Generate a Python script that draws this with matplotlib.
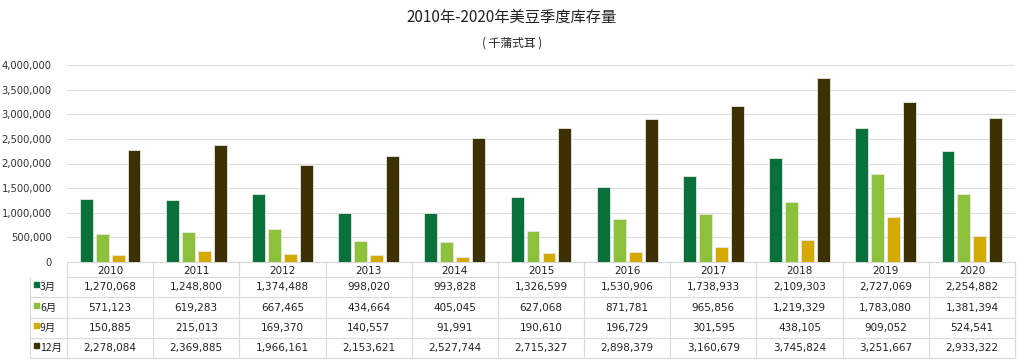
import numpy as np
import matplotlib.pyplot as plt

plt.rcParams['font.family'] = ['DejaVu Sans', 'Noto Sans CJK SC']

years = ['2010', '2011', '2012', '2013', '2014', '2015', '2016', '2017', '2018', '2019', '2020']
series_names = ['3月', '6月', '9月', '12月']
mar = [1270068, 1248800, 1374488, 998020, 993828, 1326599, 1530906, 1738933, 2109303, 2727069, 2254882]
jun = [571123, 619283, 667465, 434664, 405045, 627068, 871781, 965856, 1219329, 1783080, 1381394]
sep = [150885, 215013, 169370, 140557, 91991, 190610, 196729, 301595, 438105, 909052, 524541]
dec = [2278084, 2369885, 1966161, 2153621, 2527744, 2715327, 2898379, 3160679, 3745824, 3251667, 2933322]
series = [mar, jun, sep, dec]
colors = ['#08703A', '#8DC13C', '#D4AA00', '#3D3002']

W, H = 1024, 363
fig = plt.figure(figsize=(W / 100, H / 100), dpi=100)

# plot area in pixels
px_l, px_r, px_t, px_b = 67, 1015, 65, 262
ax = fig.add_axes([px_l / W, 1 - px_b / H, (px_r - px_l) / W, (px_b - px_t) / H])

x = np.arange(len(years))
bw = 0.15
step = 0.185
for i, (vals, c) in enumerate(zip(series, colors)):
    ax.bar(x + (i - 1.5) * step, vals, width=bw, color=c,
           edgecolor='#E8E8E0', linewidth=0.6, zorder=3)

ax.set_xlim(-0.5, len(years) - 0.5)
ax.set_ylim(0, 4000000)
ax.set_yticks(np.arange(0, 4000001, 500000))
ax.set_yticklabels([f'{v:,}' for v in range(0, 4000001, 500000)], fontsize=7.2, color='#333333')
ax.set_xticks([])
ax.tick_params(axis='y', length=0, pad=11)
ax.grid(axis='y', color='#DDDDDD', linewidth=0.8, zorder=0)
for s in ['top', 'right', 'left']:
    ax.spines[s].set_visible(False)
ax.spines['bottom'].set_color('#D6D6D6')

fig.text(0.5, 1 - 17 / H, '2010年-2020年美豆季度库存量', ha='center', va='center',
         fontsize=11, family=['Noto Sans CJK SC'], color='#222222')
fig.text(0.5, 1 - 43 / H, '( 千蒲式耳 )', ha='center', va='center',
         fontsize=8.5, family=['Noto Sans CJK SC'], color='#222222')

# data table under the chart, drawn in pixel coordinates
tab = fig.add_axes([0, 0, 1, 1], zorder=-1)
tab.set_xlim(0, W)
tab.set_ylim(H, 0)
tab.axis('off')
line_c = '#DADADA'
row_lines = [262, 277, 297, 318, 338, 358]
lab_l = 30
col_w = (px_r - px_l) / len(years)

# horizontal lines
tab.plot([px_l, px_r], [row_lines[1]] * 2, color=line_c, lw=0.8)
for yy in row_lines[2:]:
    tab.plot([lab_l, px_r], [yy, yy], color=line_c, lw=0.8)
# vertical lines
for k in range(len(years) + 1):
    xx = px_l + k * col_w
    tab.plot([xx, xx], [row_lines[0], row_lines[-1]], color=line_c, lw=0.8)
tab.plot([lab_l, lab_l], [row_lines[1], row_lines[-1]], color=line_c, lw=0.8)

# header
for k, yr in enumerate(years):
    tab.text(px_l + (k + 0.5) * col_w, (row_lines[0] + row_lines[1]) / 2 + 1, yr,
             ha='center', va='center', fontsize=7.5, color='#222222')

# rows
for r, (name, vals, c) in enumerate(zip(series_names, series, colors)):
    yc = (row_lines[r + 1] + row_lines[r + 2]) / 2
    tab.add_patch(plt.Rectangle((lab_l + 4, yc - 5), 5, 5, color=c))
    tab.text(lab_l + 10, yc, name, ha='left', va='center', fontsize=7.5,
             color='#222222', family=['Noto Sans CJK SC'])
    for k, v in enumerate(vals):
        tab.text(px_l + (k + 0.5) * col_w, yc, f'{v:,}', ha='center', va='center',
                 fontsize=7.5, color='#222222')

fig.savefig('out.png', dpi=100, facecolor='white')
